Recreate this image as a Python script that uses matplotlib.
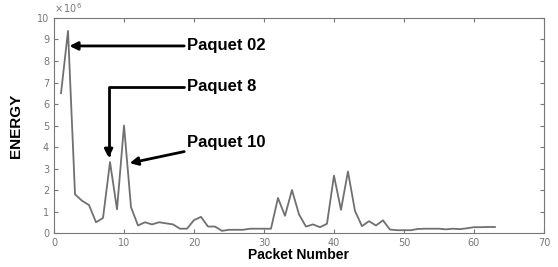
import numpy as np
import matplotlib
matplotlib.use("Agg")
import matplotlib.pyplot as plt
from matplotlib.ticker import FuncFormatter

# energy per packet, in units of 1e6
packets = list(range(1, 64))
energy = [6.5, 9.4, 1.8, 1.5, 1.3, 0.5, 0.7, 3.3, 1.1, 5.0,
          1.2, 0.35, 0.5, 0.4, 0.5, 0.45, 0.4, 0.2, 0.2, 0.6,
          0.75, 0.3, 0.3, 0.1, 0.15, 0.15, 0.15, 0.2, 0.2, 0.2,
          0.2, 1.63, 0.8, 2.0, 0.87, 0.3, 0.4, 0.27, 0.43, 2.67,
          1.08, 2.86, 1.03, 0.32, 0.55, 0.35, 0.59, 0.16, 0.13, 0.13,
          0.13, 0.19, 0.2, 0.2, 0.2, 0.17, 0.2, 0.18, 0.22, 0.27,
          0.27, 0.28, 0.28]
energy = np.array(energy) * 1e6

fig = plt.figure(figsize=(5.58, 2.67), dpi=100)
ax = fig.add_axes([0.0968, 0.1273, 0.878, 0.8053])
ax.plot(packets, energy, color="#707070", lw=1.3)

ax.set_xlim(0, 70)
ax.set_ylim(0, 10e6)
ax.set_xticks(range(0, 71, 10))
ax.set_yticks(np.arange(0, 11) * 1e6)
ax.yaxis.set_major_formatter(FuncFormatter(lambda v, p: "%d" % round(v / 1e6)))
ax.text(0.0, 1.015, r"$\times\,10^6$", transform=ax.transAxes, fontsize=7,
        color="#777777", ha="left", va="bottom")
ax.tick_params(direction="in", top=True, right=True, labelsize=7,
               labelcolor="#777777", color="#777777", length=3)
for s in ax.spines.values():
    s.set_color("#777777")

ax.set_xlabel("Packet Number", fontsize=10, fontweight="bold",
              family="Liberation Sans", labelpad=0)
ax.set_ylabel("ENERGY", fontsize=11, fontweight="bold",
              family="Liberation Sans", labelpad=10)

kw = dict(fontsize=12, fontweight="bold", family="Liberation Sans",
          va="center", ha="left")
arrow = dict(arrowstyle="-|>", color="black", lw=2, mutation_scale=12,
             shrinkA=0, shrinkB=0)
ax.annotate("Paquet 02", xy=(2.2, 8.7e6), xytext=(19, 8.7e6),
            arrowprops=arrow, **kw)
ax.annotate("Paquet 8", xy=(7.8, 3.5e6), xytext=(19, 6.8e6),
            arrowprops=dict(arrow, connectionstyle="angle,angleA=0,angleB=90,rad=0"),
            **kw)
ax.annotate("Paquet 10", xy=(10.8, 3.25e6), xytext=(19, 4.2e6),
            arrowprops=arrow, **kw)

fig.savefig("out.png", dpi=100)
